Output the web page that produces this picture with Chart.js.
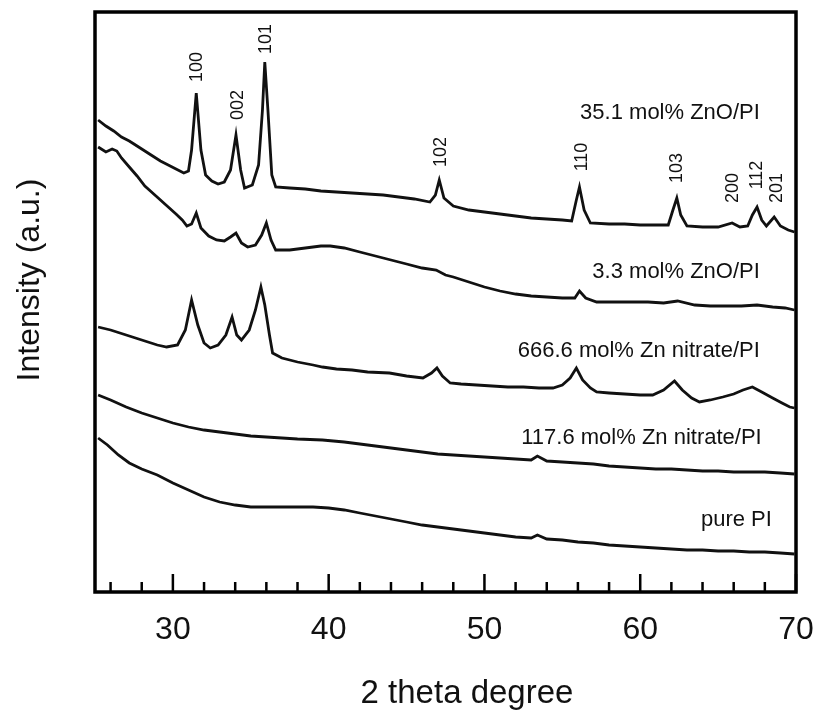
<!DOCTYPE html>
<html>
<head>
<meta charset="utf-8">
<script src="https://cdn.jsdelivr.net/npm/chart.js@4.4.1/dist/chart.umd.min.js"></script>
<style>
  html, body { margin: 0; padding: 0; background: #fff; }
  canvas { display: block; }
</style>
</head>
<body>
<canvas id="xrd" width="814" height="712"></canvas>
<script>
// 2 theta tick values
const majorTicks = [30, 40, 50, 60, 70];
const minorTicks = [26, 28, 32, 34, 36, 38, 42, 44, 46, 48, 52, 54, 56, 58, 62, 64, 66, 68];

// 35.1 mol% ZnO/PI
const zno351X = [25.2,25.7,26.2,26.7,27.2,27.7,28.2,28.7,29.2,29.7,30.2,30.7,31.0,31.2,31.5,31.8,32.1,32.5,32.9,33.3,33.7,34.05,34.35,34.6,35.1,35.5,35.75,35.9,36.1,36.35,36.6,37.5,38.5,39.5,40.5,41.5,42.5,43.5,44.5,45.5,46.5,46.85,47.1,47.4,48,49,50,51,52,53,54,55,55.6,55.9,56.1,56.4,56.8,58,59,60,61,61.8,62.1,62.35,62.6,63,64,65,65.9,66.4,66.9,67.2,67.5,67.8,68.1,68.6,69,69.5,69.9];
const zno351Y = [472,466,461,455,451,446,441,436,431,427,423,419,421,442,499,442,417,411,408,410,422,457,422,404,407,427,482,530,482,417,405,404,403,401,400,399,398,397,395,393,390,397,412,394,386,382,380,378,376,374,373,372,371,392,405,382,369,368,368,367,367,367,382,394,377,366,365,365,369,365,366,377,385,372,366,375,366,362,360];

// 3.3 mol% ZnO/PI
const zno33X = [25.2,25.7,26.1,26.4,26.7,27.2,27.7,28.2,28.7,29.2,29.7,30.2,30.6,30.9,31.2,31.5,31.8,32.3,32.8,33.3,33.7,34.05,34.4,34.8,35.3,35.7,36.0,36.3,36.6,37.5,38.5,39.5,40.1,41,42,43,44,45,46,46.9,47.5,48,49,50,51,52,53,54,55,55.8,56.1,56.5,57.2,58.5,59.5,60.5,61.5,62.4,63.5,64.5,65.5,66.5,67.5,68.5,69.3,69.9];
const zno33Y = [445,440,443,441,434,425,416,406,399,392,385,378,372,366,368,379,364,356,352,351,355,359,349,345,347,357,369,352,342,342,344,346,346,344,340,336,332,328,324,322,317,315,310,305,301,298,296,295,294,294,301,294,290,290,290,290,289,291,287,286,286,286,287,285,284,282];

// 666.6 mol% Zn nitrate/PI
const zn6666X = [25.2,26,27,28,29,29.6,30.3,30.8,31.2,31.6,32.0,32.4,32.9,33.4,33.8,34.1,34.4,34.9,35.3,35.65,35.9,36.2,36.4,37,38,39,39.6,40.5,41.5,42.5,43.9,45,46.05,46.6,46.95,47.3,47.8,48.5,49.5,50.5,51.5,52.5,53.5,54.4,55.0,55.5,55.9,56.3,56.8,57.2,58,59,60,60.8,61.5,62.2,62.7,63.3,63.8,64.5,65.3,66.0,66.6,67.2,67.8,68.5,69.1,69.6,69.9];
const zn6666Y = [265,262,257,252,247,245,247,262,292,267,249,244,247,257,275,257,252,262,282,305,287,257,239,234,230,227,225,223,222,220,219,216,214,219,224,216,209,208,207,206,205,205,204,204,207,214,224,212,204,200,199,198,197,197,202,211,202,194,190,192,195,198,202,205,200,194,189,185,184];

// 117.6 mol% Zn nitrate/PI
const zn1176X = [25.2,26,27,28,29,30,31,32,33,34,35,36,37,38,39.6,41,42,43,44,45,46,47,48,49,50,51,52,53,53.4,54,55,56,57,58,59,60,61,62,63,64,65,66,67,68,69,69.9];
const zn1176Y = [197,192,185,179,174,169,165,162,160,158,156,155,154,153,152,150,148,146,144,142,140,138,137,136,135,134,133,132,136,131,130,129,128,126,125,124,123,123,122,121,121,120,120,120,119,118];

// pure PI
const pureX = [25.2,25.8,26.5,27.2,28,29,30,31,32,33,34,35,36,37,38,39,40,41,42,43,44,45,46,47,48,49,50,51,52,53,53.4,54,55,56,57,58,59,60,61,62,63,64,65,66,67,68,69,69.9];
const pureY = [154,147,137,129,123,117,109,102,95,90,87,85,85,85,85,85,84,82,79,76,73,70,67,65,63,61,59,57,55,54,57,53,52,50,49,47,46,45,44,43,42,42,41,41,40,40,39,38];

const seriesNames = ['35.1 mol% ZnO/PI', '3.3 mol% ZnO/PI', '666.6 mol% Zn nitrate/PI', '117.6 mol% Zn nitrate/PI', 'pure PI'];
const peakNames = ['100', '002', '101', '102', '110', '103', '200', '112', '201'];

const FONT = '"Liberation Sans", Arial, Helvetica, sans-serif';
const pts = (xs, ys) => xs.map((x, i) => ({ x: x, y: ys[i] }));
const line = (data) => ({
    data: data, borderColor: '#111', borderWidth: 2.8,
    pointRadius: 0, tension: 0, fill: false
});

// labels placed in data units (2 theta, intensity)
const peakSpots = [[31.55,525],[34.18,487],[35.98,553],[47.21,440],[56.26,435],[62.36,424],[65.95,404],[67.49,417],[68.77,404]];
const nameSpots = [[67.68,479],[67.68,320],[67.68,241],[67.8,154],[68.45,72]];

const overlay = {
    id: 'overlay',
    afterDraw(chart) {
        const { ctx, chartArea: a, scales: { x, y } } = chart;
        ctx.save();
        ctx.strokeStyle = '#000';
        ctx.lineWidth = 2.5;
        ctx.beginPath();
        minorTicks.forEach(v => {
            const px = x.getPixelForValue(v);
            ctx.moveTo(px, a.bottom); ctx.lineTo(px, a.bottom - 10);
        });
        majorTicks.forEach(v => {
            const px = x.getPixelForValue(v);
            ctx.moveTo(px, a.bottom); ctx.lineTo(px, a.bottom - 18);
        });
        ctx.stroke();

        ctx.lineWidth = 3.5;
        ctx.strokeRect(a.left, a.top, a.right - a.left, a.bottom - a.top);

        ctx.fillStyle = '#111';
        // hkl peak labels
        ctx.font = '18px ' + FONT;
        ctx.textAlign = 'center';
        ctx.textBaseline = 'middle';
        peakNames.forEach((t, i) => {
            ctx.save();
            ctx.translate(x.getPixelForValue(peakSpots[i][0]), y.getPixelForValue(peakSpots[i][1]));
            ctx.rotate(-Math.PI / 2);
            ctx.fillText(t, 0, 0);
            ctx.restore();
        });
        // sample names
        ctx.font = '22px ' + FONT;
        ctx.textAlign = 'right';
        seriesNames.forEach((t, i) => {
            ctx.fillText(t, x.getPixelForValue(nameSpots[i][0]), y.getPixelForValue(nameSpots[i][1]));
        });
        // axis titles
        ctx.font = '33px ' + FONT;
        ctx.textAlign = 'center';
        ctx.textBaseline = 'alphabetic';
        ctx.fillText('2 theta degree', 467, 703);
        ctx.save();
        ctx.translate(30, 280);
        ctx.rotate(-Math.PI / 2);
        ctx.font = '32px ' + FONT;
        ctx.textBaseline = 'middle';
        ctx.fillText('Intensity (a.u.)', 0, 0);
        ctx.restore();
        ctx.restore();
    }
};

new Chart(document.getElementById('xrd'), {
    type: 'line',
    data: {
        datasets: [
            line(pts(zno351X, zno351Y)),
            line(pts(zno33X, zno33Y)),
            line(pts(zn6666X, zn6666Y)),
            line(pts(zn1176X, zn1176Y)),
            line(pts(pureX, pureY))
        ]
    },
    options: {
        responsive: false, animation: false,
        layout: { padding: { top: 12, right: 18, left: 0, bottom: 0 } },
        plugins: { legend: { display: false }, tooltip: { enabled: false } },
        scales: {
            x: {
                type: 'linear', min: 25, max: 70,
                afterBuildTicks: s => { s.ticks = majorTicks.map(v => ({ value: v })); },
                afterFit: s => { s.height = 120; s.paddingLeft = 0; s.paddingRight = 0; },
                grid: { display: false, drawTicks: false },
                border: { display: false },
                ticks: { font: { family: FONT, size: 32 }, color: '#111', padding: 19, maxRotation: 0 }
            },
            y: {
                min: 0, max: 580,
                afterFit: s => { s.width = 95; },
                grid: { display: false, drawTicks: false },
                border: { display: false },
                ticks: { display: false }
            }
        }
    },
    plugins: [overlay]
});
</script>
</body>
</html>
